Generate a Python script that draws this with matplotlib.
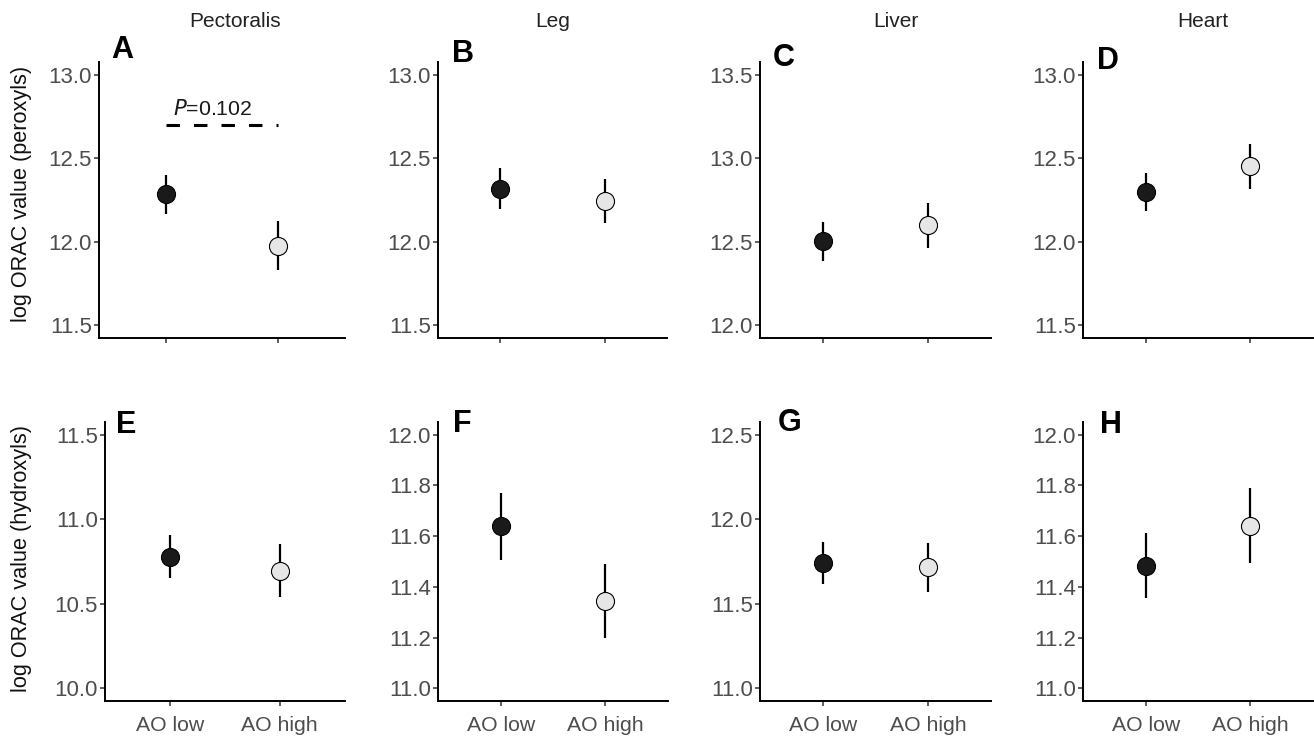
import matplotlib
matplotlib.use("Agg")
import matplotlib.pyplot as plt
import numpy as np

plt.rcParams["font.family"] = ["Liberation Sans", "DejaVu Sans"]

W, H = 1314, 736

GROUPS = ["AO low", "AO high"]
PANELS = ["A", "B", "C", "D", "E", "F", "G", "H"]
TISSUES = ["Pectoralis", "Leg", "Liver", "Heart"]
YLABELS = ["log ORAC value (peroxyls)", "log ORAC value (hydroxyls)"]

# mean +/- SE, panels A..H
MEAN_LOW = [12.285, 12.317, 12.504, 12.297, 10.778, 11.638, 11.742, 11.483]
SE_LOW = [0.117, 0.122, 0.116, 0.115, 0.128, 0.133, 0.124, 0.128]
MEAN_HIGH = [11.976, 12.243, 12.599, 12.451, 10.696, 11.345, 11.716, 11.641]
SE_HIGH = [0.146, 0.133, 0.134, 0.133, 0.157, 0.145, 0.144, 0.148]

YTICKS = [
    [11.5, 12.0, 12.5, 13.0],
    [11.5, 12.0, 12.5, 13.0],
    [12.0, 12.5, 13.0, 13.5],
    [11.5, 12.0, 12.5, 13.0],
    [10.0, 10.5, 11.0, 11.5],
    [11.0, 11.2, 11.4, 11.6, 11.8, 12.0],
    [11.0, 11.5, 12.0, 12.5],
    [11.0, 11.2, 11.4, 11.6, 11.8, 12.0],
]

P_LABEL = "0.102"
P_LINE_Y = 12.7

# panel boxes in pixels: left, top, right, bottom
BOXES = [
    (99, 62, 345, 338), (438, 62, 667, 338), (760, 62, 991, 338), (1083, 62, 1313, 338),
    (105, 422, 345, 701), (438, 422, 668, 701), (760, 422, 991, 701), (1083, 422, 1313, 701),
]
LETTER_POS = [(111, 58), (452, 62), (773, 66), (1097, 69),
              (116, 433), (453, 432), (778, 431), (1100, 433)]
TITLE_X = [235, 553, 896, 1203]

TICK_COL = "#4d4d4d"


def fx(px):
    return px / W


def fy(py):
    return 1 - py / H


def draw_panel(fig, i):
    l, t, r, b = BOXES[i]
    ax = fig.add_axes([fx(l), fy(b), fx(r) - fx(l), fy(t) - fy(b)])
    x = np.arange(1, 3)
    means = [MEAN_LOW[i], MEAN_HIGH[i]]
    ses = [SE_LOW[i], SE_HIGH[i]]
    ax.errorbar(x, means, yerr=ses, fmt="none", ecolor="black", elinewidth=1.6,
                capsize=0, zorder=2)
    ax.plot(x[0], means[0], "o", ms=13, mfc="#1a1a1a", mec="black", mew=0.8, zorder=3)
    ax.plot(x[1], means[1], "o", ms=13, mfc="#e6e6e6", mec="black", mew=0.8, zorder=3)

    ticks = YTICKS[i]
    rng = ticks[-1] - ticks[0]
    ax.set_ylim(ticks[0] - 0.05 * rng, ticks[-1] + 0.05 * rng)
    ax.set_yticks(ticks)
    ax.set_yticklabels([f"{v:.1f}" for v in ticks])
    ax.set_xlim(0.4, 2.6)
    ax.set_xticks(x)
    if i >= 4:
        ax.set_xticklabels(GROUPS)
    else:
        ax.set_xticklabels([])

    for s in ["top", "right"]:
        ax.spines[s].set_visible(False)
    for s in ["left", "bottom"]:
        ax.spines[s].set_linewidth(1.4)
        ax.spines[s].set_color("black")
    ax.tick_params(axis="both", length=3.5, width=1.1, color="#333333",
                   labelcolor=TICK_COL)
    ax.tick_params(axis="y", pad=1.5, labelsize=16)
    ax.tick_params(axis="x", pad=7, labelsize=15.3)

    if i == 0:
        ax.plot([1, 2], [P_LINE_Y, P_LINE_Y], color="black", lw=2.2,
                linestyle=(0, (4.4, 4.6)), solid_capstyle="butt")
        ax.text(1.42, P_LINE_Y + 0.06, r"$\it{P}$=" + P_LABEL, ha="center",
                va="baseline", fontsize=15.3, color="#1a1a1a")
    return ax


fig = plt.figure(figsize=(W / 100, H / 100), dpi=100)

for i in range(len(PANELS)):
    draw_panel(fig, i)
    lx, ly = LETTER_POS[i]
    fig.text(fx(lx), fy(ly), PANELS[i], fontsize=22, fontweight="bold",
             ha="left", va="baseline", color="black")

for j, name in enumerate(TISSUES):
    fig.text(fx(TITLE_X[j]), fy(27), name, fontsize=15, ha="center",
             va="baseline", color="#222222")

fig.text(fx(22), fy(194), YLABELS[0], rotation=90, fontsize=15.6,
         ha="center", va="center", color="#111111")
fig.text(fx(22), fy(558), YLABELS[1], rotation=90, fontsize=15.6,
         ha="center", va="center", color="#111111")

fig.savefig("out.png", dpi=100)
